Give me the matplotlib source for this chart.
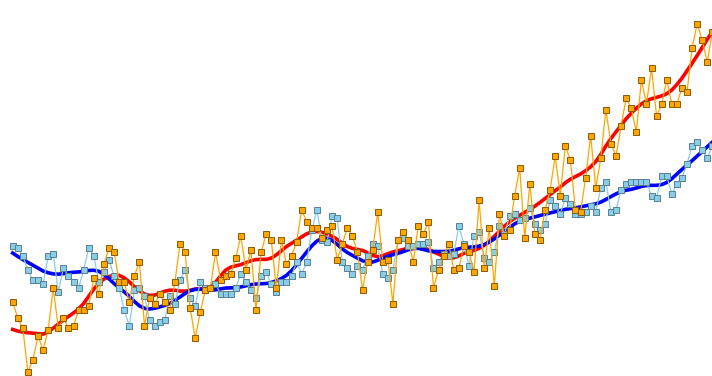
"""
Land and ocean anomalies with smoothed trend lines
"""
import numpy as np
import matplotlib
matplotlib.use("Agg")
from matplotlib import pyplot as plt

years = np.arange(1880, 2019)

land = [-0.26, -0.34, -0.39, -0.61, -0.55, -0.43, -0.50, -0.40, -0.19, -0.39,
        -0.34, -0.39, -0.38, -0.30, -0.30, -0.28, -0.14, -0.22, -0.07, 0.01,
        -0.01, -0.16, -0.16, -0.26, -0.13, -0.06, -0.38, -0.24, -0.27, -0.22,
        -0.26, -0.30, -0.16, 0.03, -0.01, -0.29, -0.44, -0.31, -0.20, -0.19,
        -0.01, -0.15, -0.13, -0.12, -0.04, 0.07, -0.10, 0.00, -0.30, -0.01,
        0.08, 0.05, -0.19, 0.05, -0.07, -0.03, 0.04, 0.20, 0.14, 0.11,
        0.11, 0.06, 0.10, 0.12, -0.05, 0.03, 0.11, 0.07, -0.01, -0.20,
        -0.06, 0.00, 0.19, -0.06, -0.05, -0.27, 0.05, 0.09, 0.05, -0.06,
        0.12, 0.08, 0.14, -0.19, -0.10, -0.03, 0.03, -0.10, -0.09, 0.02,
        -0.01, -0.11, 0.25, -0.09, 0.11, -0.18, 0.18, 0.07, 0.10, 0.27,
        0.41, 0.06, 0.33, 0.08, 0.05, 0.20, 0.30, 0.47, 0.27, 0.52,
        0.45, 0.20, 0.19, 0.36, 0.57, 0.31, 0.46, 0.70, 0.53, 0.47,
        0.62, 0.76, 0.71, 0.59, 0.85, 0.73, 0.91, 0.67, 0.73, 0.85,
        0.73, 0.73, 0.81, 0.79, 1.01, 1.13, 1.05, 0.94, 1.09]

ocean = [0.02, 0.01, -0.03, -0.10, -0.15, -0.15, -0.17, -0.03, -0.02, -0.21,
         -0.09, -0.13, -0.16, -0.19, -0.10, 0.01, -0.03, -0.16, -0.11, -0.05,
         -0.13, -0.19, -0.30, -0.38, -0.20, -0.19, -0.23, -0.35, -0.38, -0.36,
         -0.35, -0.23, -0.27, -0.15, -0.10, -0.24, -0.28, -0.16, -0.19, -0.19,
         -0.17, -0.22, -0.22, -0.22, -0.19, -0.12, -0.16, -0.20, -0.24, -0.13,
         -0.11, -0.17, -0.21, -0.16, -0.16, -0.13, -0.06, -0.12, -0.06, 0.10,
         0.20, 0.05, 0.04, 0.17, 0.16, -0.06, -0.09, -0.12, -0.08, -0.10,
         -0.03, 0.03, 0.02, -0.12, -0.14, -0.10, 0.05, 0.06, 0.02, 0.02,
         0.03, 0.03, 0.04, -0.09, -0.06, -0.02, -0.03, -0.02, 0.12, 0.03,
         -0.08, 0.07, 0.09, -0.04, -0.06, -0.01, 0.12, 0.08, 0.17, 0.18,
         0.15, 0.16, 0.21, 0.13, 0.10, 0.13, 0.25, 0.22, 0.18, 0.26,
         0.23, 0.18, 0.18, 0.19, 0.22, 0.19, 0.31, 0.34, 0.19, 0.20,
         0.30, 0.33, 0.34, 0.34, 0.34, 0.34, 0.27, 0.26, 0.37, 0.37,
         0.28, 0.33, 0.36, 0.43, 0.52, 0.54, 0.50, 0.46, 0.52]


def lowess(x, y, frac=0.09):
    # local linear fit with tricube weights
    x = np.asarray(x, float)
    y = np.asarray(y, float)
    n = len(x)
    k = int(np.ceil(frac * n))
    out = np.zeros(n)
    for i in range(n):
        d = np.abs(x - x[i])
        h = np.sort(d)[k]
        w = np.clip(1 - (d / h) ** 3, 0, None) ** 3
        A = np.vstack([np.ones(n), x - x[i]]).T
        W = np.diag(w)
        beta = np.linalg.solve(A.T @ W @ A, A.T @ W @ y)
        out[i] = beta[0]
    return out


fig = plt.figure(figsize=(7.12, 3.76), dpi=100)
ax = fig.add_axes([0, 0, 1, 1])

ax.plot(years, lowess(years, land), color="red", lw=2.6, zorder=1)
ax.plot(years, lowess(years, ocean), color="blue", lw=2.6, zorder=1)

ax.plot(years, ocean, color="skyblue", lw=0.9, marker="s", ms=5,
        mfc="skyblue", mec="#5a7f8f", mew=0.7, zorder=2)
ax.plot(years, land, color="orange", lw=0.9, marker="s", ms=5,
        mfc="orange", mec="#8a5a00", mew=0.7, zorder=3)

ax.set_xlim(1877.5, 2017.93)
ax.set_ylim(-0.63, 1.25)
ax.axis("off")

plt.savefig("out.png", dpi=100)
